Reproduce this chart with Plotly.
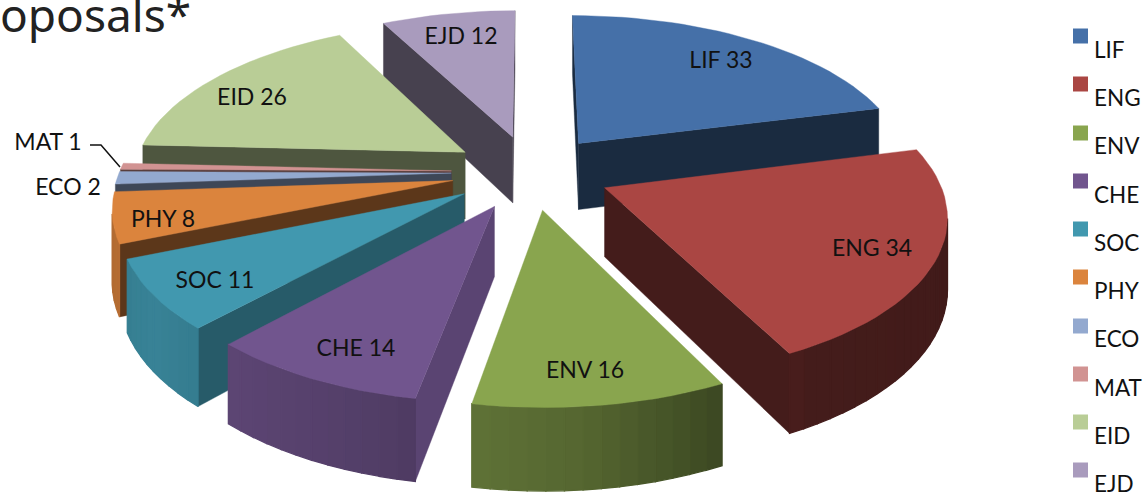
import numpy as np
import plotly.graph_objects as go

CATEGORIES = ["LIF", "ENG", "ENV", "CHE", "SOC", "PHY", "ECO", "MAT", "EID", "EJD"]
VALUES = [33, 34, 16, 14, 11, 8, 2, 1, 26, 12]
COLORS = ["#4570A8", "#AA4643", "#89A54E", "#71558E", "#4198AF", "#DB843D", "#93A9CF", "#D19392", "#B9CD96", "#A99BBD"]
RADIAL_SHADE = [0.38, 0.40, 0.55, 0.80, 0.60, 0.42, 0.42, 0.42, 0.42, 0.42]
LABEL_X = [721, 872, 585, 356, 215, 163, 68, 48, 252, 461]
LABEL_Y = [62, 250, 372, 350, 282, 221, 189, 144, 99, 38]
LEGEND_BOX_Y = [36, 84, 133, 181, 229, 277, 326, 374, 422, 470]
LEGEND_TEXT_Y = [52, 100, 148, 197, 245, 293, 341, 390, 438, 486]

CX, CY, A, B, P, H, EXPLODE = 531, 172, 332, 155, 0.15, 68, 0.24
ARC_ANGLE = [60, 150, 175, 200, 235, 262, 300]
ARC_SHADE = [0.36, 0.40, 0.62, 0.74, 0.86, 0.80, 0.5]
FONT = "Lato"


def project(u, v, z=0.0):
    s = 1 / (1 + P * v)
    return CX + A * u * s, CY - B * v * s + z * H * s


def shade(color, f):
    rgb = [int(color[i:i + 2], 16) for i in (1, 3, 5)]
    return "rgb(%d,%d,%d)" % tuple(round(c * f) for c in rgb)


def poly(fig, xs, ys, color, lw=0.4):
    fig.add_trace(go.Scatter(
        x=list(xs) + [xs[0]], y=list(ys) + [ys[0]], mode="lines", fill="toself",
        fillcolor=color, line=dict(color=color, width=lw), hoverinfo="skip", showlegend=False))


fig = go.Figure()
edges = np.cumsum([0] + VALUES) / sum(VALUES) * 2 * np.pi
mids = (edges[:-1] + edges[1:]) / 2
order = np.argsort(-np.cos(mids))

for i in order:
    t0, t1, tm = edges[i], edges[i + 1], mids[i]
    ex, ey = EXPLODE * np.sin(tm), EXPLODE * np.cos(tm)
    n = max(4, int(np.degrees(t1 - t0) / 2.5))
    ts = np.linspace(t0, t1, n + 1)
    us = [ex] + list(ex + np.sin(ts))
    vs = [ey] + list(ey + np.cos(ts))
    top = [project(u, v) for u, v in zip(us, vs)]
    bot = [project(u, v, 1) for u, v in zip(us, vs)]
    m = len(top)
    col = COLORS[i]
    for a, b in [(m - 1, 0), (0, 1)]:
        if top[b][0] < top[a][0]:
            poly(fig, [top[a][0], top[b][0], bot[b][0], bot[a][0]],
                 [top[a][1], top[b][1], bot[b][1], bot[a][1]], shade(col, RADIAL_SHADE[i]))
    for k in range(1, m - 1):
        if top[k + 1][0] < top[k][0]:
            f = np.interp(np.degrees((ts[k - 1] + ts[k]) / 2), ARC_ANGLE, ARC_SHADE)
            poly(fig, [top[k][0], top[k + 1][0], bot[k + 1][0], bot[k][0]],
                 [top[k][1], top[k + 1][1], bot[k + 1][1], bot[k][1]], shade(col, f), lw=1.3)
    poly(fig, [p[0] for p in top], [p[1] for p in top], col)

fig.add_trace(go.Scatter(x=[90, 101, 120], y=[145, 145, 167], mode="lines",
                         line=dict(color="#111111", width=1.5), hoverinfo="skip", showlegend=False))
fig.add_trace(go.Scatter(
    x=LABEL_X, y=LABEL_Y, mode="text", hoverinfo="skip", showlegend=False,
    text=[f"{c} {v}" for c, v in zip(CATEGORIES, VALUES)], textposition="middle center",
    textfont=dict(family=FONT, size=23, color="#111111")))
fig.add_trace(go.Scatter(
    x=[1080.5] * len(CATEGORIES), y=LEGEND_BOX_Y, mode="markers", hoverinfo="skip", showlegend=False,
    marker=dict(symbol="square", size=15, color=COLORS, line=dict(width=0))))
fig.add_trace(go.Scatter(
    x=[1094] * len(CATEGORIES), y=LEGEND_TEXT_Y, mode="text", hoverinfo="skip", showlegend=False,
    text=CATEGORIES, textposition="middle right", textfont=dict(family=FONT, size=22.5, color="#111111")))

fig.add_annotation(xref="paper", yref="paper", x=-0.002, y=1.038, xanchor="left", yanchor="top",
                   text="oposals*", showarrow=False,
                   font=dict(family="Noto Sans", size=46, color="#222222"))

fig.update_layout(
    width=1144, height=492, margin=dict(l=0, r=0, t=0, b=0),
    paper_bgcolor="white", plot_bgcolor="white", showlegend=False,
    xaxis=dict(range=[0, 1144], visible=False, fixedrange=True),
    yaxis=dict(range=[492, 0], visible=False, fixedrange=True),
)
fig.write_html("out.html", config={"displayModeBar": False},
               post_script="document.body.style.margin='0';document.body.style.overflow='hidden';")
